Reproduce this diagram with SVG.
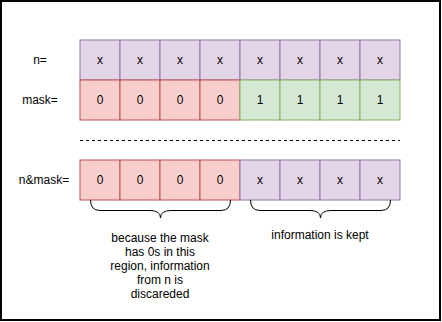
<svg xmlns="http://www.w3.org/2000/svg" width="442" height="322" viewBox="0 0 442 322">
<style>
text{font-family:"Liberation Sans",Arial,sans-serif;font-size:12px;fill:#000;text-anchor:middle;dominant-baseline:central}
.p{fill:#e1d5e7;stroke:#9673a6}
.r{fill:#f8cecc;stroke:#b85450}
.g{fill:#d5e8d4;stroke:#82b366}
.br{fill:none;stroke:#000;stroke-width:1}
</style>
<rect x="1" y="1" width="439" height="319" fill="#fff" stroke="#000" stroke-width="2"/>
<g id="labels">
<text x="40" y="60">n=</text>
<text x="40" y="100">mask=</text>
<text x="44" y="180">n&amp;mask=</text>
</g>
<g id="row-n">
<rect class="p" x="80" y="40" width="40" height="40"/><text x="100" y="60">x</text>
<rect class="p" x="120" y="40" width="40" height="40"/><text x="140" y="60">x</text>
<rect class="p" x="160" y="40" width="40" height="40"/><text x="180" y="60">x</text>
<rect class="p" x="200" y="40" width="40" height="40"/><text x="220" y="60">x</text>
<rect class="p" x="240" y="40" width="40" height="40"/><text x="260" y="60">x</text>
<rect class="p" x="280" y="40" width="40" height="40"/><text x="300" y="60">x</text>
<rect class="p" x="320" y="40" width="40" height="40"/><text x="340" y="60">x</text>
<rect class="p" x="360" y="40" width="40" height="40"/><text x="380" y="60">x</text>
</g>
<g id="row-mask">
<rect class="r" x="80" y="80" width="40" height="40"/><text x="100" y="100">0</text>
<rect class="r" x="120" y="80" width="40" height="40"/><text x="140" y="100">0</text>
<rect class="r" x="160" y="80" width="40" height="40"/><text x="180" y="100">0</text>
<rect class="r" x="200" y="80" width="40" height="40"/><text x="220" y="100">0</text>
<rect class="g" x="240" y="80" width="40" height="40"/><text x="260" y="100">1</text>
<rect class="g" x="280" y="80" width="40" height="40"/><text x="300" y="100">1</text>
<rect class="g" x="320" y="80" width="40" height="40"/><text x="340" y="100">1</text>
<rect class="g" x="360" y="80" width="40" height="40"/><text x="380" y="100">1</text>
</g>
<g id="row-result">
<rect class="r" x="80" y="160" width="40" height="40"/><text x="100" y="180">0</text>
<rect class="r" x="120" y="160" width="40" height="40"/><text x="140" y="180">0</text>
<rect class="r" x="160" y="160" width="40" height="40"/><text x="180" y="180">0</text>
<rect class="r" x="200" y="160" width="40" height="40"/><text x="220" y="180">0</text>
<rect class="p" x="240" y="160" width="40" height="40"/><text x="260" y="180">x</text>
<rect class="p" x="280" y="160" width="40" height="40"/><text x="300" y="180">x</text>
<rect class="p" x="320" y="160" width="40" height="40"/><text x="340" y="180">x</text>
<rect class="p" x="360" y="160" width="40" height="40"/><text x="380" y="180">x</text>
</g>
<g id="connectors">
<line x1="80" y1="140.5" x2="400" y2="140.5" stroke="#000" stroke-dasharray="3 3"/>
<path class="br" d="M90.5,200 Q90.5,210.5 100,210.5 L150,210.5 Q160.5,210.5 160.5,218 Q160.5,210.5 171,210.5 L221,210.5 Q230.5,210.5 230.5,200"/>
<path class="br" d="M250.5,200 Q250.5,210.5 260,210.5 L310,210.5 Q320.5,210.5 320.5,218 Q320.5,210.5 331,210.5 L381,210.5 Q390.5,210.5 390.5,200"/>
</g>
<g id="note-left">
<text x="160" y="238">because the mask</text>
<text x="160" y="252">has 0s in this</text>
<text x="160" y="266">region, information</text>
<text x="160" y="280">from n is</text>
<text x="160" y="294">discareded</text>
</g>
<g id="note-right">
<text x="320" y="235">information is kept</text>
</g>
</svg>
